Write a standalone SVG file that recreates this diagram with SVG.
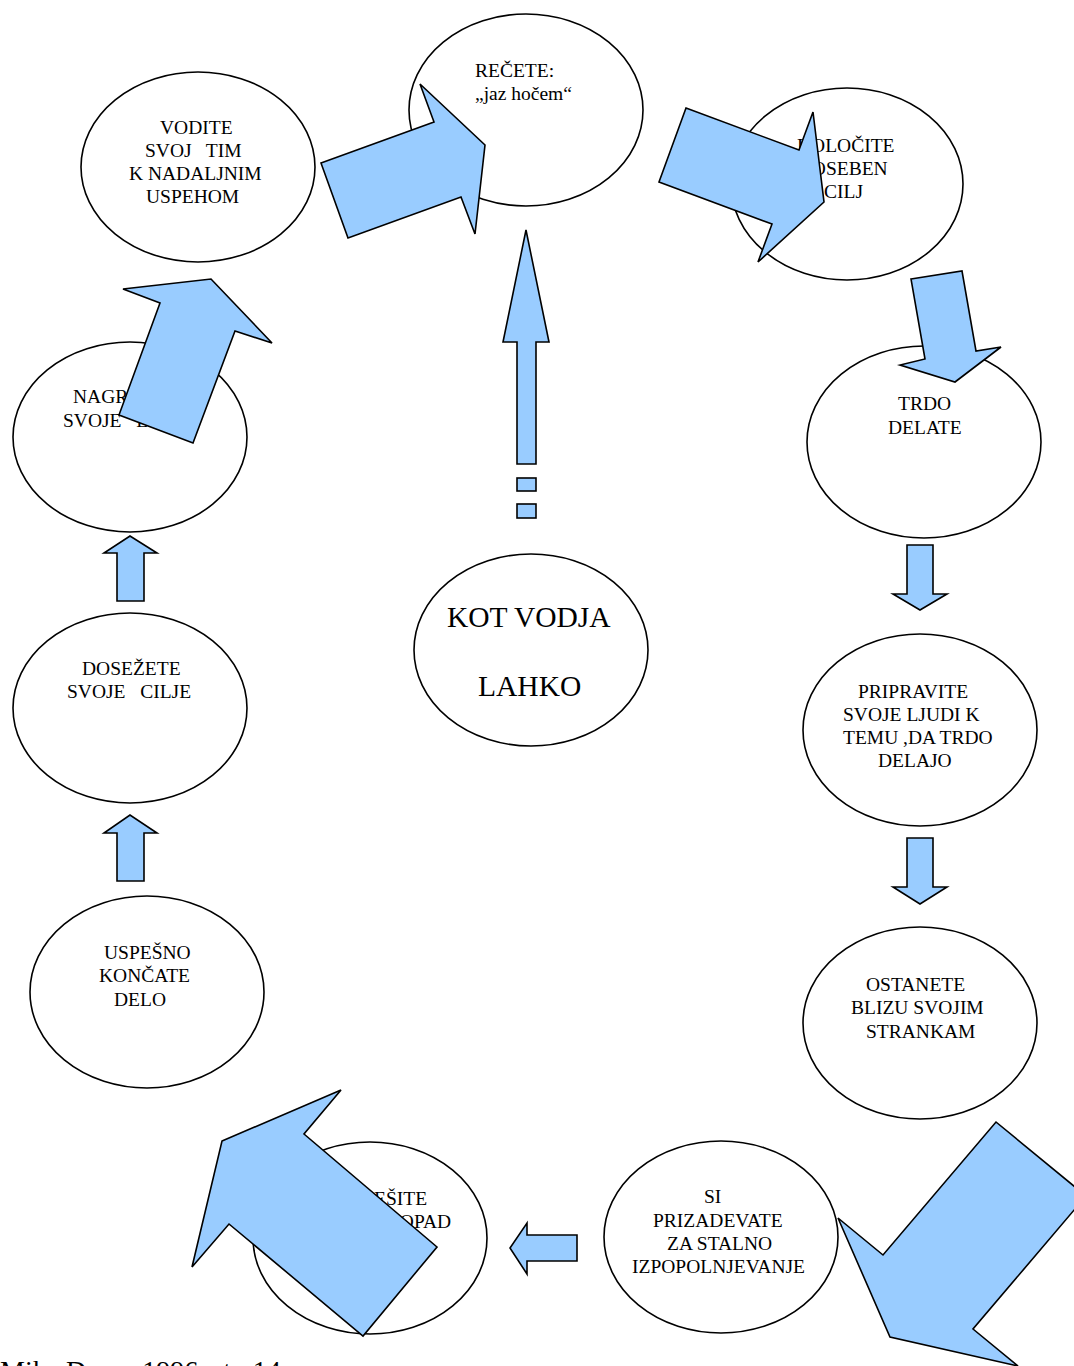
<svg xmlns="http://www.w3.org/2000/svg" width="1074" height="1366" viewBox="0 0 1074 1366">
<style>
.n{fill:#fff;stroke:#000;stroke-width:1.6}
.t{font-family:"Liberation Serif","Times New Roman",serif;font-size:19.5px;fill:#000}
.big{font-size:29.5px}
.a{fill:#99ccff;stroke:#000;stroke-width:1.6;stroke-linejoin:miter}
</style>
<rect width="1074" height="1366" fill="#fff"/>
<g id="n-vodite"><ellipse class="n" cx="198" cy="167" rx="117" ry="95"/>
<text class="t"><tspan x="160" y="134">VODITE</tspan><tspan x="145" y="157" xml:space="preserve">SVOJ   TIM</tspan><tspan x="129" y="180">K NADALJNIM</tspan><tspan x="146" y="203">USPEHOM</tspan></text></g>
<g id="n-recete"><ellipse class="n" cx="526" cy="110" rx="117" ry="96"/>
<text class="t"><tspan x="475" y="77">REČETE:</tspan><tspan x="475" y="100">„jaz hočem“</tspan></text></g>
<g id="n-dolocite"><ellipse class="n" cx="847" cy="184" rx="116" ry="96"/>
<text class="t"><tspan x="797" y="152">DOLOČITE</tspan><tspan x="801" y="175">POSEBEN</tspan><tspan x="824" y="198">CILJ</tspan></text></g>
<g id="n-trdo"><ellipse class="n" cx="924" cy="442" rx="117" ry="96"/>
<text class="t"><tspan x="898" y="410">TRDO</tspan><tspan x="888" y="434">DELATE</tspan></text></g>
<g id="n-pripravite"><ellipse class="n" cx="920" cy="730" rx="117" ry="96"/>
<text class="t"><tspan x="858" y="698">PRIPRAVITE</tspan><tspan x="843" y="721">SVOJE LJUDI K</tspan><tspan x="843" y="744">TEMU ,DA TRDO</tspan><tspan x="878" y="767">DELAJO</tspan></text></g>
<g id="n-ostanete"><ellipse class="n" cx="920" cy="1023" rx="117" ry="96"/>
<text class="t"><tspan x="866" y="991">OSTANETE</tspan><tspan x="851" y="1014">BLIZU SVOJIM</tspan><tspan x="866" y="1038">STRANKAM</tspan></text></g>
<g id="n-si"><ellipse class="n" cx="721" cy="1237" rx="117" ry="96"/>
<text class="t"><tspan x="704" y="1203">SI</tspan><tspan x="653" y="1227">PRIZADEVATE</tspan><tspan x="667" y="1250">ZA STALNO</tspan><tspan x="632" y="1273">IZPOPOLNJEVANJE</tspan></text></g>
<g id="n-resite"><ellipse class="n" cx="370" cy="1238" rx="117" ry="96"/>
<text class="t"><tspan x="361" y="1205">REŠITE</tspan><tspan x="376" y="1228">PROPAD</tspan></text></g>
<g id="n-uspesno"><ellipse class="n" cx="147" cy="992" rx="117" ry="96"/>
<text class="t"><tspan x="104" y="959">USPEŠNO</tspan><tspan x="99" y="982">KONČATE</tspan><tspan x="114" y="1006">DELO</tspan></text></g>
<g id="n-dosezete"><ellipse class="n" cx="130" cy="708" rx="117" ry="95"/>
<text class="t"><tspan x="82" y="675">DOSEŽETE</tspan><tspan x="67" y="698" xml:space="preserve">SVOJE   CILJE</tspan></text></g>
<g id="n-nagradite"><ellipse class="n" cx="130" cy="437" rx="117" ry="95"/>
<text class="t"><tspan x="73" y="403">NAGRADITE</tspan><tspan x="63" y="427" xml:space="preserve">SVOJE   LJUDI</tspan></text></g>
<g id="n-kot"><ellipse class="n" cx="531" cy="650" rx="117" ry="96"/>
<text class="t big"><tspan x="447" y="627">KOT VODJA</tspan><tspan x="478" y="696">LAHKO</tspan></text></g>
<g id="connectors">
<polygon class="a" points="321,163 434,122 420,84 485,145 475,234 461,197 348,238"/>
<polygon class="a" points="686,108 799,150 813,112 824,202 758,262 772,224 659,182"/>
<polygon class="a" points="911,279 962,271 976,351 1001,347 955,382 900,365 925,359"/>
<polygon class="a" points="907,545 933,545 933,594 947,594 920,610 893,594 907,594"/>
<polygon class="a" points="907,838 933,838 933,887 947,887 920,904 893,887 907,887"/>
<polygon class="a" points="996,1122 1086,1196 973,1329 1018,1366 890,1337 838,1218 883,1255"/>
<polygon class="a" points="577,1235 577,1261 527,1261 527,1274 510,1248 527,1223 527,1235"/>
<polygon class="a" points="222,1141 341,1090 304,1134 437,1247 363,1336 229,1224 192,1267"/>
<polygon class="a" points="117,881 144,881 144,833 157,833 130,815 104,833 117,833"/>
<polygon class="a" points="117,601 144,601 144,553 157,553 130,536 104,553 117,553"/>
<polygon class="a" points="119,415 160,303 123,289 211,279 272,343 235,331 193,443"/>
<polygon class="a" points="526,230 549,342 536,342 536,464 517,464 517,342 503,342"/>
<rect class="a" x="517" y="478" width="19" height="13"/>
<rect class="a" x="517" y="504" width="19" height="14"/>
</g>
<text class="t" style="font-size:28px" x="0" y="1380">Mike Dunn, 1996, str. 14</text>
</svg>
